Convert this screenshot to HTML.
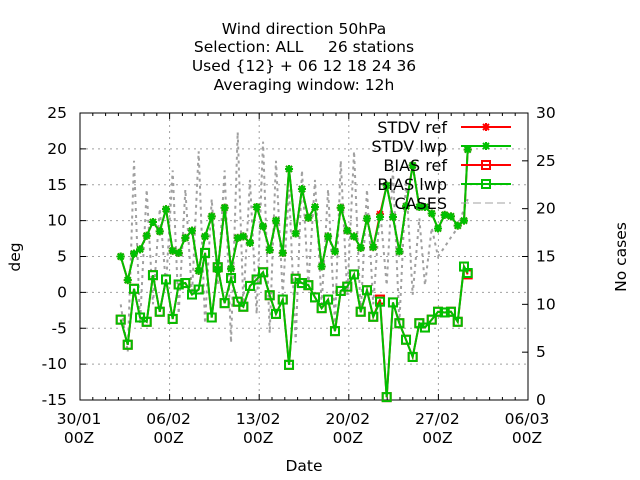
<!DOCTYPE html>
<html><head><meta charset="utf-8"><style>
html,body{margin:0;padding:0;background:#fff;}
svg{display:block;font-family:"DejaVu Sans","Liberation Sans",sans-serif;}
</style></head><body>
<svg id="chart" width="640" height="480" viewBox="0 0 640 480">
<g font-size="15.5" text-anchor="middle" fill="#000" style="white-space:pre">
<text x="304" y="34">Wind direction 50hPa</text>
<text x="304" y="52" xml:space="preserve">Selection: ALL     26 stations</text>
<text x="304" y="71">Used {12} + 06 12 18 24 36</text>
<text x="304" y="90">Averaging window: 12h</text>
</g>
<g id="grid"></g>
<g id="axes"></g>
<g id="series"></g>
<text x="20" y="257" font-size="15.5" text-anchor="middle" transform="rotate(-90 20 257)">deg</text>
<text x="626" y="257" font-size="15.5" text-anchor="middle" transform="rotate(-90 626 257)">No cases</text>
<text x="304" y="471" font-size="15.5" text-anchor="middle">Date</text>
<g id="legend"></g>
</svg>
<script>
const xTickLabels = ["30/01","06/02","13/02","20/02","27/02","06/03"];
const yTicks = [-15,-10,-5,0,5,10,15,20,25];
const y2Ticks = [0,5,10,15,20,25,30];
const xs = [120.7,127.7,134,140,146.7,153,159.7,166,172.7,178.7,185.3,192,198.7,205,211.7,217.7,224.7,231,237.7,243.3,250,256.7,263,269.7,276,282.7,289,295.7,302,308.3,315,321.7,328,335,340.7,347.3,354,360.7,367,373.3,380,386.7,393,399.3,406,412.7,419.3,425,431.7,438,444.7,451,457.7,464,467.7];
const times = xs.map(x => +((x-80)/12.8).toFixed(2)); // days since 30/01 00Z
const stdvLwp = [5.0,1.7,5.4,6.0,7.9,9.8,8.5,11.6,5.8,5.5,7.6,8.6,3.0,7.8,10.6,3.2,11.8,3.3,7.6,7.8,6.9,11.9,9.2,5.9,10.0,5.5,17.2,8.2,14.4,10.4,11.9,3.6,7.8,5.7,11.8,8.6,7.8,6.2,10.3,6.3,10.5,14.9,10.5,5.7,12.0,17.7,11.9,11.9,11.0,8.9,10.8,10.6,9.3,10.0,19.9];
const stdvRef = [5.0,1.7,5.4,6.0,7.9,9.8,8.5,11.6,5.8,5.5,7.6,8.6,3.0,7.8,10.6,3.2,11.8,3.3,7.6,7.8,6.9,11.9,9.2,5.9,10.0,5.5,17.2,8.2,14.4,10.4,11.9,3.6,7.8,5.7,11.8,8.6,7.8,6.2,10.3,6.3,10.9,14.9,10.5,5.7,12.0,17.7,11.9,11.9,11.0,8.9,10.8,10.6,9.3,10.0,19.9];
const biasLwp = [-3.8,-7.3,0.5,-3.5,-4.1,2.4,-2.7,1.8,-3.7,1.1,1.3,-0.3,0.4,5.5,-3.5,3.5,-1.5,2.0,-1.3,-2.0,0.9,1.8,2.8,-0.4,-3.0,-1.0,-10.1,1.9,1.3,1.0,-0.7,-2.2,-1.0,-5.4,0.2,0.8,2.5,-2.7,0.3,-3.4,-1.3,-14.6,-1.4,-4.3,-6.6,-9.0,-4.3,-4.9,-3.8,-2.7,-2.8,-2.7,-4.1,3.6,2.7];
const biasRef = [-3.8,-7.3,0.5,-3.5,-4.1,2.4,-2.7,1.8,-3.7,1.1,1.3,-0.3,0.4,5.5,-3.5,3.5,-1.5,2.0,-1.3,-2.0,0.9,1.8,2.8,-0.4,-3.0,-1.0,-10.1,1.9,1.3,1.0,-0.7,-2.2,-1.0,-5.4,0.2,0.8,2.5,-2.7,0.3,-3.4,-1.0,-14.6,-1.4,-4.3,-6.6,-9.0,-4.3,-4.9,-3.8,-2.7,-2.8,-2.7,-4.1,3.6,2.5];
const cases = [10,5,25,8,22,10,20,12,24,9,22,11,26,8,21,12,24,6,28,10,23,9,27,7,25,11,22,6,24,12,23,10,22,8,25,11,26,9,22,10,20,12,24,8,23,11,19,12,18,15,16,17,18,20,21];

const NS="http://www.w3.org/2000/svg";
const L=80,R=528,T=113,B=400;
const X = d => L + d*12.8;
const Y = v => B - (v+15)*(B-T)/40;
const Y2 = c => B - c*(B-T)/30;
function mk(parent,tag,attrs){const e=document.createElementNS(NS,tag);for(const k in attrs)e.setAttribute(k,attrs[k]);parent.appendChild(e);return e;}
const grid=document.getElementById('grid'),axes=document.getElementById('axes'),series=document.getElementById('series'),legend=document.getElementById('legend');

yTicks.forEach(v=>{ if(v>-15&&v<25){const g=mk(grid,'line',{x1:L,x2:R,y1:Y(v),y2:Y(v),stroke:'#a0a0a0','stroke-dasharray':'2,4','stroke-width':1});

}});
xTickLabels.forEach((t,i)=>{ if(i>0&&i<xTickLabels.length-1){const g=mk(grid,'line',{x1:X(i*7),x2:X(i*7),y1:T,y2:B,stroke:'#a0a0a0','stroke-dasharray':'2,4','stroke-width':1});

}});

const fr=mk(axes,'rect',{x:L,y:T,width:R-L,height:B-T,fill:'none',stroke:'#000','stroke-width':1});


yTicks.forEach(v=>{
 mk(axes,'line',{x1:L,x2:L+6,y1:Y(v),y2:Y(v),stroke:'#000'});
 const t=mk(axes,'text',{x:L-13,y:Y(v)+5,'font-size':15.5,'text-anchor':'end'});t.textContent=v;
 
 
});
y2Ticks.forEach(c=>{
 mk(axes,'line',{x1:R-6,x2:R,y1:Y2(c),y2:Y2(c),stroke:'#000'});
 const t=mk(axes,'text',{x:R+8,y:Y2(c)+5,'font-size':15.5,'text-anchor':'start'});t.textContent=c;
 
 
});
for(let d=0;d<=35;d++){const big=d%7===0;const h=big?6:3;
 mk(axes,'line',{x1:X(d),x2:X(d),y1:B,y2:B-h,stroke:'#000'});
 mk(axes,'line',{x1:X(d),x2:X(d),y1:T,y2:T+h,stroke:'#000'});}
xTickLabels.forEach((s,i)=>{
 const t=mk(axes,'text',{x:X(i*7)-1,y:424,'font-size':15.5,'text-anchor':'middle'});t.textContent=s;
 
 
 const t2=mk(axes,'text',{x:X(i*7)-1,y:443,'font-size':15.5,'text-anchor':'middle'});t2.textContent='00Z';
 
 
});

const cp=mk(series,'polyline',{points:cases.map((c,i)=>X(times[i])+','+Y2(c)).join(' '),fill:'none',stroke:'#a0a0a0','stroke-width':2,'stroke-dasharray':'3,4'});



function star(g,x,y,col){mk(g,'path',{d:`M${x-4},${y}H${x+4}M${x},${y-4}V${y+4}M${x-3},${y-3}L${x+3},${y+3}M${x-3},${y+3}L${x+3},${y-3}`,stroke:col,'stroke-width':2});}
function box(g,x,y,col){mk(g,'rect',{x:x-4,y:y-4,width:8,height:8,fill:'none',stroke:col,'stroke-width':2});}
function drawSeries(vals,col,marker,name){
 const g=mk(series,'g',{});
 
 
 mk(g,'polyline',{points:vals.map((v,i)=>X(times[i])+','+Y(v)).join(' '),fill:'none',stroke:col,'stroke-width':2});
 vals.forEach((v,i)=>marker(g,X(times[i]),Y(v),col));
}
drawSeries(stdvRef,'#ff0000',star,'stdv-ref-series');
drawSeries(biasRef,'#ff0000',box,'bias-ref-series');
drawSeries(stdvLwp,'#00c000',star,'stdv-lwp-series');
drawSeries(biasLwp,'#00c000',box,'bias-lwp-series');

const items=[['STDV ref','#ff0000',star],['STDV lwp','#00c000',star],['BIAS ref','#ff0000',box],['BIAS lwp','#00c000',box],['CASES','#a0a0a0',null]];
items.forEach((it,i)=>{const y=127+i*19;
 const g=mk(legend,'g',{});
 
 
 const t=mk(g,'text',{x:447,y:y+6,'font-size':16,'text-anchor':'end'});t.textContent=it[0];
 if(it[2]){mk(g,'line',{x1:461,x2:511,y1:y,y2:y,stroke:it[1],'stroke-width':2});it[2](g,486,y,it[1]);}
 else mk(g,'line',{x1:461,x2:511,y1:y,y2:y,stroke:it[1],'stroke-width':1,'stroke-dasharray':'8,4'});
});
</script>
</body></html>
